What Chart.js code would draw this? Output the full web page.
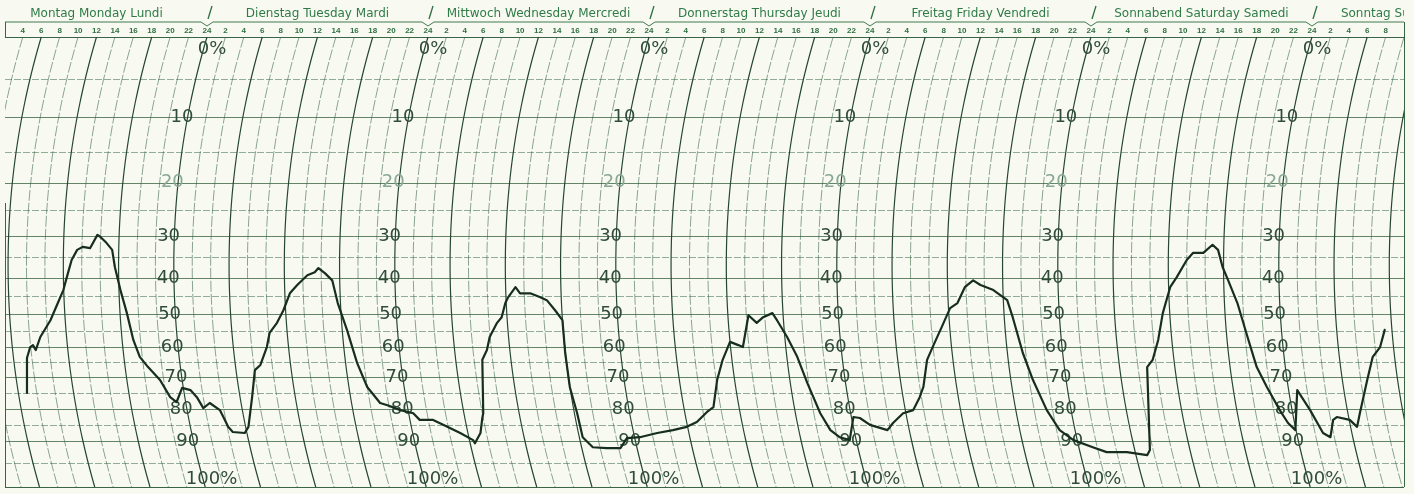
<!DOCTYPE html>
<html lang="de">
<head>
  <meta charset="UTF-8">
  <title>Hygrogramm Wochenstreifen</title>
  <script src="https://cdn.jsdelivr.net/npm/chart.js"></script>
  <style>
    html, body { margin: 0; padding: 0; background: #f8faf1; }
    #chart { display: block; }
  </style>
</head>
<body>
  <canvas id="chart" width="1414" height="494"></canvas>

  <script>
    // trace: hours since Monday 0:00 and relative humidity in %
    const hours = [4.45, 4.45, 4.45, 4.8, 5.1, 5.4, 5.9, 7.0, 7.8, 8.4,
      8.9, 9.3, 9.9, 10.5, 11.3, 12.1, 12.4, 13.1, 13.7, 14.0,
      14.6, 15.3, 16.0, 16.7, 17.6, 18.9, 20.0, 20.7, 21.3, 22.2,
      22.9, 23.6, 24.3, 25.4, 26.3, 26.8, 28.1, 28.5, 28.9, 29.2,
      29.8, 30.5, 30.8, 31.6, 32.3, 33.0, 33.8, 34.9, 35.7, 36.1,
      36.8, 37.6, 38.2, 39.2, 40.3, 41.4, 42.8, 43.6, 45.0, 46.4,
      47.1, 48.5, 50.1, 51.5, 52.9, 53.1, 53.7, 53.9, 54.0, 53.9,
      54.4, 54.7, 55.5, 56.0, 56.4, 56.7, 57.5, 58.0, 59.1, 60.2,
      60.9, 61.8, 62.6, 62.9, 63.4, 64.2, 64.8, 65.9, 67.4, 68.9,
      69.6, 71.0, 72.9, 74.6, 76.1, 77.2, 78.3, 79.0, 79.4, 80.0,
      80.8, 81.7, 82.2, 82.8, 83.7, 84.4, 85.4, 85.9, 87.0, 88.1,
      89.2, 90.6, 91.7, 92.7, 93.8, 94.2, 94.9, 96.0, 97.9, 98.5,
      99.6, 100.7, 101.4, 101.8, 102.2, 102.9, 103.8, 104.7, 105.5, 106.3,
      107.2, 108.0, 109.4, 110.9, 111.5, 112.6, 113.7, 115.2, 116.6, 118.1,
      120.2, 121.7, 123.9, 126.1, 126.4, 126.1, 126.7, 127.3, 127.8, 128.6,
      129.3, 130.4, 131.1, 132.2, 133.2, 133.8, 134.3, 134.9, 135.9, 137.0,
      138.0, 139.1, 140.5, 141.4, 142.2, 142.4, 143.8, 145.2, 146.0, 146.3,
      146.7, 148.1, 148.9, 149.2, 150.0, 150.6, 151.4, 151.9];

    const humidity = [75, 67.7, 63.7, 60, 59.4, 61, 56.9, 51.8, 46.9, 43.3,
      38.8, 35.7, 33.3, 32.6, 32.9, 29.8, 30.2, 31.7, 33.3, 37.4,
      43.3, 49.7, 57.8, 63.3, 66.7, 70.9, 76.3, 77.8, 73.4, 74.1,
      76.3, 79.7, 78.1, 80.3, 85.6, 87.2, 87.5, 85.6, 76.3, 67.7,
      66, 60, 55.6, 52.6, 48.9, 44.2, 41.9, 39.3, 38.6, 37.6,
      38.8, 40.6, 46.9, 54.7, 65.3, 73.1, 78.1, 78.8, 80.3, 81.3,
      83.4, 83.4, 85.6, 87.5, 89.7, 90.5, 87.5, 82.8, 81.3, 64.3,
      61, 56.9, 52.6, 50.9, 46.9, 45.3, 42.5, 44.2, 44.2, 45.3,
      46.1, 48.9, 51.8, 62, 73.1, 81.3, 88.8, 91.4, 91.6, 91.6,
      89.1, 88.8, 87.5, 86.6, 85.6, 84.1, 80.9, 79.4, 70.9, 64.3,
      58.4, 59.4, 60, 50.3, 52.6, 50.9, 49.7, 51.8, 56.9, 63.3,
      71.9, 81.3, 86.6, 88.8, 89.7, 82.5, 82.8, 85, 86.6, 84.4,
      81.3, 80.3, 76.3, 73.1, 64.3, 59.4, 53.8, 48.3, 46.9, 42.5,
      40.6, 41.9, 43.3, 46.1, 50.9, 62, 70.9, 80.3, 86.6, 89.7,
      91.4, 92.5, 92.5, 93.2, 92, 66.7, 64.3, 57.8, 49.7, 42.5,
      39.8, 35.7, 34, 34, 32.1, 33.3, 37.4, 40.6, 46.9, 56.9,
      66.7, 73.1, 80.3, 84.4, 86.6, 74.1, 80.3, 87.5, 88.8, 83.4,
      82.5, 83.4, 85.6, 81.3, 70.9, 63.3, 60, 54.7];

    const dayNames = ['Montag Monday Lundi', 'Dienstag Tuesday Mardi', 'Mittwoch Wednesday Mercredi',
      'Donnerstag Thursday Jeudi', 'Freitag Friday Vendredi', 'Sonnabend Saturday Samedi',
      'Sonntag Sunday Dimanche'];
    const hourTicks = [2, 4, 6, 8, 10, 12, 14, 16, 18, 20, 22, 24];
    const rhTicks = [0, 10, 20, 30, 40, 50, 60, 70, 80, 90, 100];
    const rhTickLabels = ['0%', '10', '20', '30', '40', '50', '60', '70', '80', '90', '100%'];

    // the hair hygrometer scale is not linear: where 0, 5, 10 ... 100 % sit, as a share of the plot height
    const HAIR_STOPS = [0, .093, .178, .256, .324, .384, .442, .489, .536, .576, .616,
      .653, .689, .722, .756, .791, .827, .862, .898, .947, 1];

    class HygroScale extends Chart.LinearScale {
      static id = 'hygro';
      getPixelForValue(value) {
        const v = Math.max(0, Math.min(100, value));
        const i = Math.min(Math.floor(v / 5), 19);
        const f = HAIR_STOPS[i] + (HAIR_STOPS[i + 1] - HAIR_STOPS[i]) * (v - i * 5) / 5;
        return this.top + f * (this.bottom - this.top);
      }
      getValueForPixel(pixel) {
        const f = (pixel - this.top) / (this.bottom - this.top);
        for (let i = 0; i < 20; i++) {
          if (f <= HAIR_STOPS[i + 1]) {
            return i * 5 + 5 * (f - HAIR_STOPS[i]) / (HAIR_STOPS[i + 1] - HAIR_STOPS[i]);
          }
        }
        return 100;
      }
    }
    Chart.register(HygroScale);

    const PAPER_LEFT = 5;
    const PAPER_RIGHT = 1404;
    const ARC_R = 800;   // pen arm radius in px
    const ARC_MID = 228; // px below the 0 % line where the time arcs bend furthest left

    // recorder paper: time arcs, humidity lines, printed scales and day names
    const paper = {
      id: 'paper',
      beforeDraw(chart) {
        const ctx = chart.ctx;
        ctx.save();
        ctx.fillStyle = '#f8faf1';
        ctx.fillRect(0, 0, chart.width, chart.height);
        ctx.restore();
      },
      beforeDatasetsDraw(chart) {
        const { ctx, chartArea: ca, scales: { x, y } } = chart;
        const yc = ca.top + ARC_MID;
        const sag = py => ARC_R - Math.sqrt(ARC_R * ARC_R - (py - yc) * (py - yc));
        const arcX = (t, py) => x.getPixelForValue(t) + sag(py) - sag(ca.top);

        ctx.save();
        ctx.beginPath();
        ctx.rect(PAPER_LEFT, 0, PAPER_RIGHT - PAPER_LEFT, chart.height);
        ctx.clip();

        // humidity lines every 5 %
        for (let v = 5; v <= 95; v += 5) {
          const py = Math.round(y.getPixelForValue(v)) + 0.5;
          ctx.strokeStyle = v % 10 === 0 ? 'rgba(40,85,52,0.8)' : 'rgba(60,105,72,0.6)';
          ctx.lineWidth = 0.9;
          ctx.setLineDash(v % 10 === 0 ? [] : [7, 2]);
          ctx.beginPath();
          ctx.moveTo(PAPER_LEFT, py);
          ctx.lineTo(PAPER_RIGHT, py);
          ctx.stroke();
        }
        ctx.setLineDash([]);
        ctx.strokeStyle = '#3a6446';
        ctx.lineWidth = 1.2;
        [0, 100].forEach(v => {
          const py = Math.round(y.getPixelForValue(v)) + 0.5;
          ctx.beginPath();
          ctx.moveTo(PAPER_LEFT, py);
          ctx.lineTo(PAPER_RIGHT, py);
          ctx.stroke();
        });

        // time arcs every 2 h, heavier every 6 h
        for (let t = 0; t <= 170; t += 2) {
          const bold = t % 6 === 0;
          ctx.strokeStyle = bold ? '#264630' : 'rgba(50,95,62,0.7)';
          ctx.lineWidth = bold ? 1.2 : 0.8;
          ctx.setLineDash(bold ? [] : [11, 2]);
          ctx.beginPath();
          for (let py = ca.top; py <= ca.bottom; py += 6) {
            const px = arcX(t, py);
            if (py === ca.top) ctx.moveTo(px, py); else ctx.lineTo(px, py);
          }
          ctx.lineTo(arcX(t, ca.bottom), ca.bottom);
          ctx.stroke();
        }
        ctx.setLineDash([]);

        // humidity labels sit on each midnight arc, the arc running through a "0"
        ctx.font = '18px "DejaVu Sans"';
        ctx.textBaseline = 'middle';
        ctx.textAlign = 'left';
        for (let k = 1; k <= 6; k++) {
          rhTicks.forEach((v, i) => {
            const label = rhTickLabels[i];
            let py = y.getPixelForValue(v);
            if (v === 0) py = ca.top + 12;
            if (v === 100) py = ca.bottom - 8;
            const zeroAt = v === 0 ? 0 : 1;
            const lead = ctx.measureText(label.slice(0, zeroAt)).width + ctx.measureText('0').width / 2;
            ctx.fillStyle = v === 20 ? '#8aa893' : '#314d39';
            ctx.fillText(label, arcX(24 * k, py) - lead, py);
          });
        }

        // hour ruler
        const rulerTop = ca.top - 15;
        ctx.strokeStyle = '#3f7a50';
        ctx.lineWidth = 1;
        ctx.beginPath();
        ctx.moveTo(PAPER_LEFT, rulerTop);
        for (let k = 1; k <= 6; k++) {
          const bx = x.getPixelForValue(24 * k);
          ctx.lineTo(bx - 6, rulerTop);
          ctx.lineTo(bx, rulerTop + 4);
          ctx.lineTo(bx + 6, rulerTop);
        }
        ctx.lineTo(PAPER_RIGHT, rulerTop);
        ctx.stroke();

        ctx.font = 'bold 8px "Liberation Sans"';
        ctx.textAlign = 'center';
        ctx.fillStyle = '#2f6e42';
        for (let k = 0; k <= 6; k++) {
          hourTicks.forEach(hr => {
            const px = x.getPixelForValue(24 * k + hr);
            if (px < PAPER_LEFT + 4 || px > PAPER_RIGHT - 4) return;
            ctx.fillText(String(hr), px, ca.top - 6);
          });
        }

        // day names and the slashes between them
        ctx.font = '12px "DejaVu Sans"';
        ctx.fillStyle = '#2f7b48';
        dayNames.forEach((name, k) => {
          ctx.fillText(name, x.getPixelForValue(24 * k + 12), ca.top - 23);
        });
        ctx.strokeStyle = '#2f6e42';
        ctx.lineWidth = 1.3;
        for (let k = 1; k <= 6; k++) {
          const bx = x.getPixelForValue(24 * k);
          ctx.beginPath();
          ctx.moveTo(bx + 1, rulerTop - 3);
          ctx.lineTo(bx + 5, rulerTop - 16);
          ctx.stroke();
        }
        ctx.restore();

        // paper edges
        ctx.save();
        ctx.strokeStyle = '#3a6446';
        ctx.lineWidth = 1;
        ctx.beginPath();
        ctx.moveTo(PAPER_LEFT + 0.5, rulerTop);
        ctx.lineTo(PAPER_LEFT + 0.5, ca.top);
        ctx.moveTo(PAPER_LEFT + 0.5, ca.top + 166);
        ctx.lineTo(PAPER_LEFT + 0.5, ca.bottom);
        ctx.moveTo(PAPER_RIGHT + 0.5, rulerTop);
        ctx.lineTo(PAPER_RIGHT + 0.5, ca.bottom);
        ctx.stroke();
        ctx.restore();
      }
    };

    new Chart(document.getElementById('chart'), {
      type: 'line',
      data: {
        datasets: [{
          label: 'Relative Feuchte',
          data: hours.map((h, i) => ({ x: h, y: humidity[i] })),
          borderColor: '#172d1d',
          borderWidth: 2.2,
          borderJoinStyle: 'round',
          borderCapStyle: 'round',
          pointRadius: 0,
          tension: 0,
          fill: false
        }]
      },
      options: {
        responsive: false,
        animation: false,
        devicePixelRatio: 1,
        layout: { padding: { top: 37, bottom: 7, left: 0, right: 0 } },
        scales: {
          x: { type: 'linear', display: false, min: 1.52, max: 155.08 },
          y: { type: 'hygro', display: false, min: 0, max: 100 }
        },
        plugins: {
          legend: { display: false },
          tooltip: { enabled: false }
        }
      },
      plugins: [paper]
    });
  </script>
</body>
</html>
